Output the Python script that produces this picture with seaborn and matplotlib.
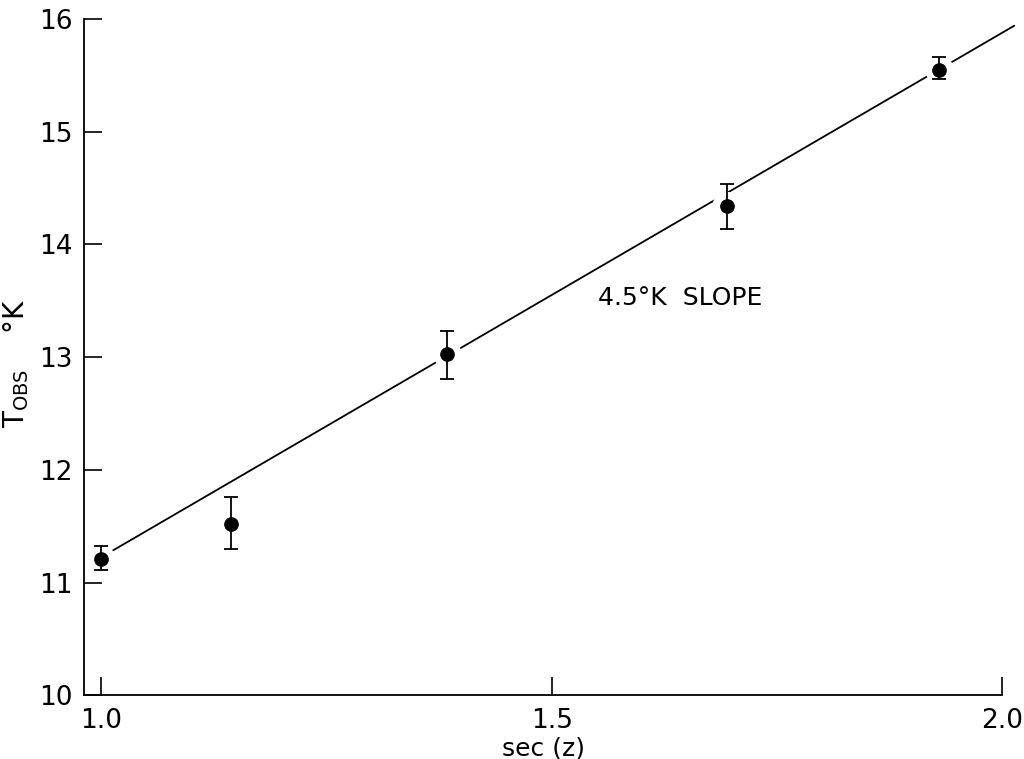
import matplotlib
matplotlib.use("Agg")
import matplotlib.pyplot as plt
import seaborn as sns
import pandas as pd

sec_z = [1.000, 1.144, 1.384, 1.694, 1.930]
t_obs = [11.21, 11.52, 13.03, 14.34, 15.55]
err_lo = [0.10, 0.22, 0.22, 0.20, 0.08]
err_hi = [0.11, 0.24, 0.20, 0.20, 0.11]

# fitted line (drawn end points)
fit_x = [1.01, 2.013]
fit_y = [11.27, 15.94]

x_ticks = [1.0, 1.5, 2.0]
x_labels = ["1.0", "1.5", "2.0"]
y_ticks = [10, 11, 12, 13, 14, 15, 16]

sns.set_style("ticks")
plt.rcParams["font.family"] = ["DejaVu Sans"]
plt.rcParams["text.color"] = "black"
plt.rcParams["axes.labelcolor"] = "black"
plt.rcParams["xtick.color"] = "black"
plt.rcParams["ytick.color"] = "black"
plt.rcParams["axes.edgecolor"] = "black"

df = pd.DataFrame({"sec": sec_z, "T": t_obs})
fit = pd.DataFrame({"sec": fit_x, "T": fit_y})

fig = plt.figure(figsize=(10.24, 7.59), dpi=100)
ax = fig.add_axes([0.082, 0.084, 0.897, 0.891])

sns.lineplot(data=fit, x="sec", y="T", color="black", lw=1.3, ax=ax, zorder=1)
for ln in ax.lines:
    ln.set_clip_on(False)
# white halo so the line breaks around each point
sns.scatterplot(data=df, x="sec", y="T", s=420, color="white", edgecolor="none", ax=ax, zorder=2)
ax.errorbar(sec_z, t_obs, yerr=[err_lo, err_hi], fmt="none", ecolor="black",
            elinewidth=1.3, capsize=5, capthick=1.3, zorder=3)
sns.scatterplot(data=df, x="sec", y="T", s=95, color="black", edgecolor="black", ax=ax, zorder=4)

ax.set_xlim(0.981, 2.0)
ax.set_ylim(10, 16)
ax.set_xticks(x_ticks)
ax.set_xticklabels(x_labels)
ax.set_yticks(y_ticks)
ax.tick_params(direction="in", length=13, width=1.2, labelsize=19, pad=8)
ax.tick_params(axis="x", pad=9)

for s in ["top", "right"]:
    ax.spines[s].set_visible(False)
for s in ["left", "bottom"]:
    ax.spines[s].set_linewidth(1.3)

ax.set_xlabel("sec (z)", fontsize=18, labelpad=2)
ax.set_ylabel(r"T$_{\mathregular{OBS}}$    °K", fontsize=20, labelpad=2)
ax.yaxis.set_label_coords(-0.058, 0.49)

ax.text(1.551, 13.52, "4.5°K  SLOPE", fontsize=18, va="center", ha="left")

fig.savefig("out.png", dpi=100)
